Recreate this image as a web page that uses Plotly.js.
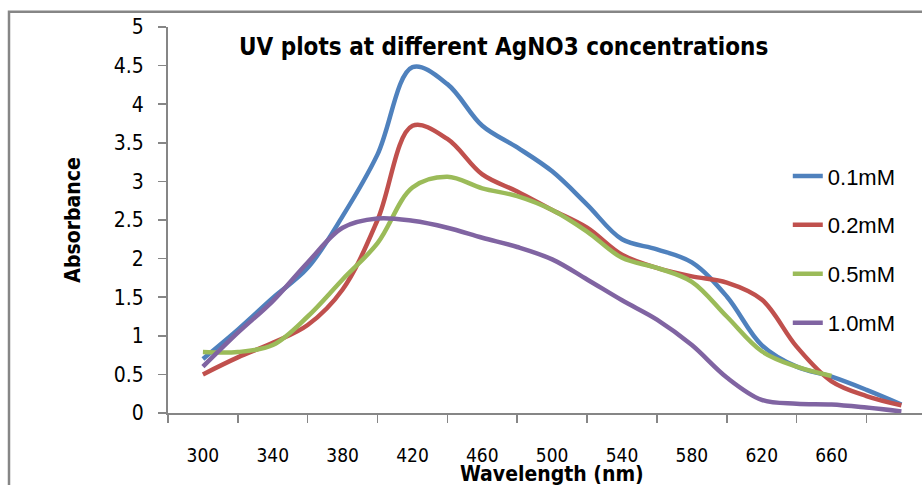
<!DOCTYPE html>
<html>
<head>
<meta charset="utf-8">
<script src="https://cdn.plot.ly/plotly-3.0.1.min.js"></script>
<style>html,body{margin:0;padding:0;background:#fff;}#chart{width:922px;height:485px;}</style>
</head>
<body>
<div id="chart"></div>
<script>
// Wavelength categories (nm)
const wavelength = [300,320,340,360,380,400,420,440,460,480,500,520,540,560,580,600,620,640,660,680,700];
const wavelengthGreen = [300,320,340,360,380,400,420,440,460,480,500,520,540,560,580,600,620,640,660];
// Absorbance series
const abs01 = [0.70,1.08,1.49,1.88,2.55,3.35,4.48,4.26,3.72,3.44,3.13,2.70,2.25,2.12,1.95,1.51,0.88,0.60,0.47,0.30,0.11];
const abs02 = [0.50,0.72,0.91,1.14,1.60,2.50,3.72,3.55,3.09,2.87,2.63,2.40,2.05,1.88,1.77,1.69,1.47,0.86,0.41,0.22,0.10];
const abs05 = [0.79,0.79,0.88,1.25,1.73,2.20,2.92,3.06,2.91,2.81,2.63,2.35,2.01,1.88,1.70,1.25,0.80,0.60,0.48];
const abs10 = [0.60,1.04,1.45,1.95,2.40,2.52,2.49,2.40,2.27,2.15,1.99,1.73,1.46,1.21,0.88,0.46,0.17,0.12,0.11,0.07,0.02];
const seriesNames = ['0.1mM','0.2mM','0.5mM','1.0mM'];
const tickLabels = ['300','340','380','420','460','500','540','580','620','660'];
const tickPositions = [300,340,380,420,460,500,540,580,620,660];

const colors = ['#4F81BD','#C0504D','#9BBB59','#8064A2'];
const xs = [wavelength, wavelength, wavelengthGreen, wavelength];
const ys = [abs01, abs02, abs05, abs10];

const traces = ys.map((y,i)=>({
  x: xs[i], y: y, type:'scatter', mode:'lines', name: seriesNames[i],
  legendgroup: 'g'+i,
  line:{color:colors[i], width:4.5, shape:'spline', smoothing:1},
  cliponaxis:false
}));

const narrow = 'Liberation Sans Narrow, Arial Narrow, DejaVu Sans Condensed, sans-serif';
const axisColor = '#868686';

const layout = {
  width:922, height:485,
  margin:{l:168, r:0, t:27.3, b:71.7, pad:0},
  paper_bgcolor:'#ffffff', plot_bgcolor:'#ffffff',
  showlegend:true,
  legend:{x:0.822, xanchor:'left', y:0.668, yanchor:'top', traceorder:'grouped', tracegroupgap:17.3,
    font:{family:'Liberation Sans, Arial, sans-serif', size:22, color:'#000'}, bgcolor:'rgba(0,0,0,0)', borderwidth:0},
  xaxis:{range:[280,711.8], showgrid:false, zeroline:false, showline:true, linecolor:axisColor, linewidth:2,
    tickmode:'array', tickvals:tickPositions, ticktext:tickLabels, ticks:'', ticklabelstandoff:24,
    tickfont:{family:narrow, size:19, color:'#000'},
    minor:{tickmode:'linear', tick0:280, dtick:40, ticks:'outside', ticklen:8, tickwidth:1.5, tickcolor:axisColor, showgrid:false}
  },
  yaxis:{range:[0,5], showgrid:false, zeroline:false, showline:true, linecolor:axisColor, linewidth:2,
    tickmode:'linear', tick0:0, dtick:0.5, ticks:'outside', ticklen:8, tickwidth:1.5, tickcolor:axisColor,
    ticklabelstandoff:10, tickfont:{family:narrow, size:21, color:'#000'}
  },
  annotations:[
    {text:'<b>UV plots at different AgNO3 concentrations</b>', xref:'paper', yref:'paper',
     x:(503-168)/754, y:(413.3-47)/386, xanchor:'center', yanchor:'middle', showarrow:false,
     font:{family:narrow, size:24, color:'#000'}},
    {text:'<b>Wavelength (nm)</b>', xref:'paper', yref:'paper',
     x:(552-168)/754, y:(413.3-474)/386, xanchor:'center', yanchor:'middle', showarrow:false,
     font:{family:narrow, size:21, color:'#000'}},
    {text:'<b>Absorbance</b>', xref:'paper', yref:'paper', textangle:-90,
     x:(73-168)/754, y:(413.3-221)/386, xanchor:'center', yanchor:'middle', showarrow:false,
     font:{family:narrow, size:21, color:'#000'}}
  ],
  shapes:[
    {type:'rect', xref:'paper', yref:'paper', x0:(9-168)/754, x1:(935-168)/754, y0:(413.3-500)/386, y1:(413.3-12)/386,
     line:{color:axisColor, width:2.5}, fillcolor:'rgba(0,0,0,0)', layer:'below'}
  ]
};

Plotly.newPlot('chart', traces, layout, {staticPlot:true, displayModeBar:false});
</script>
</body>
</html>
